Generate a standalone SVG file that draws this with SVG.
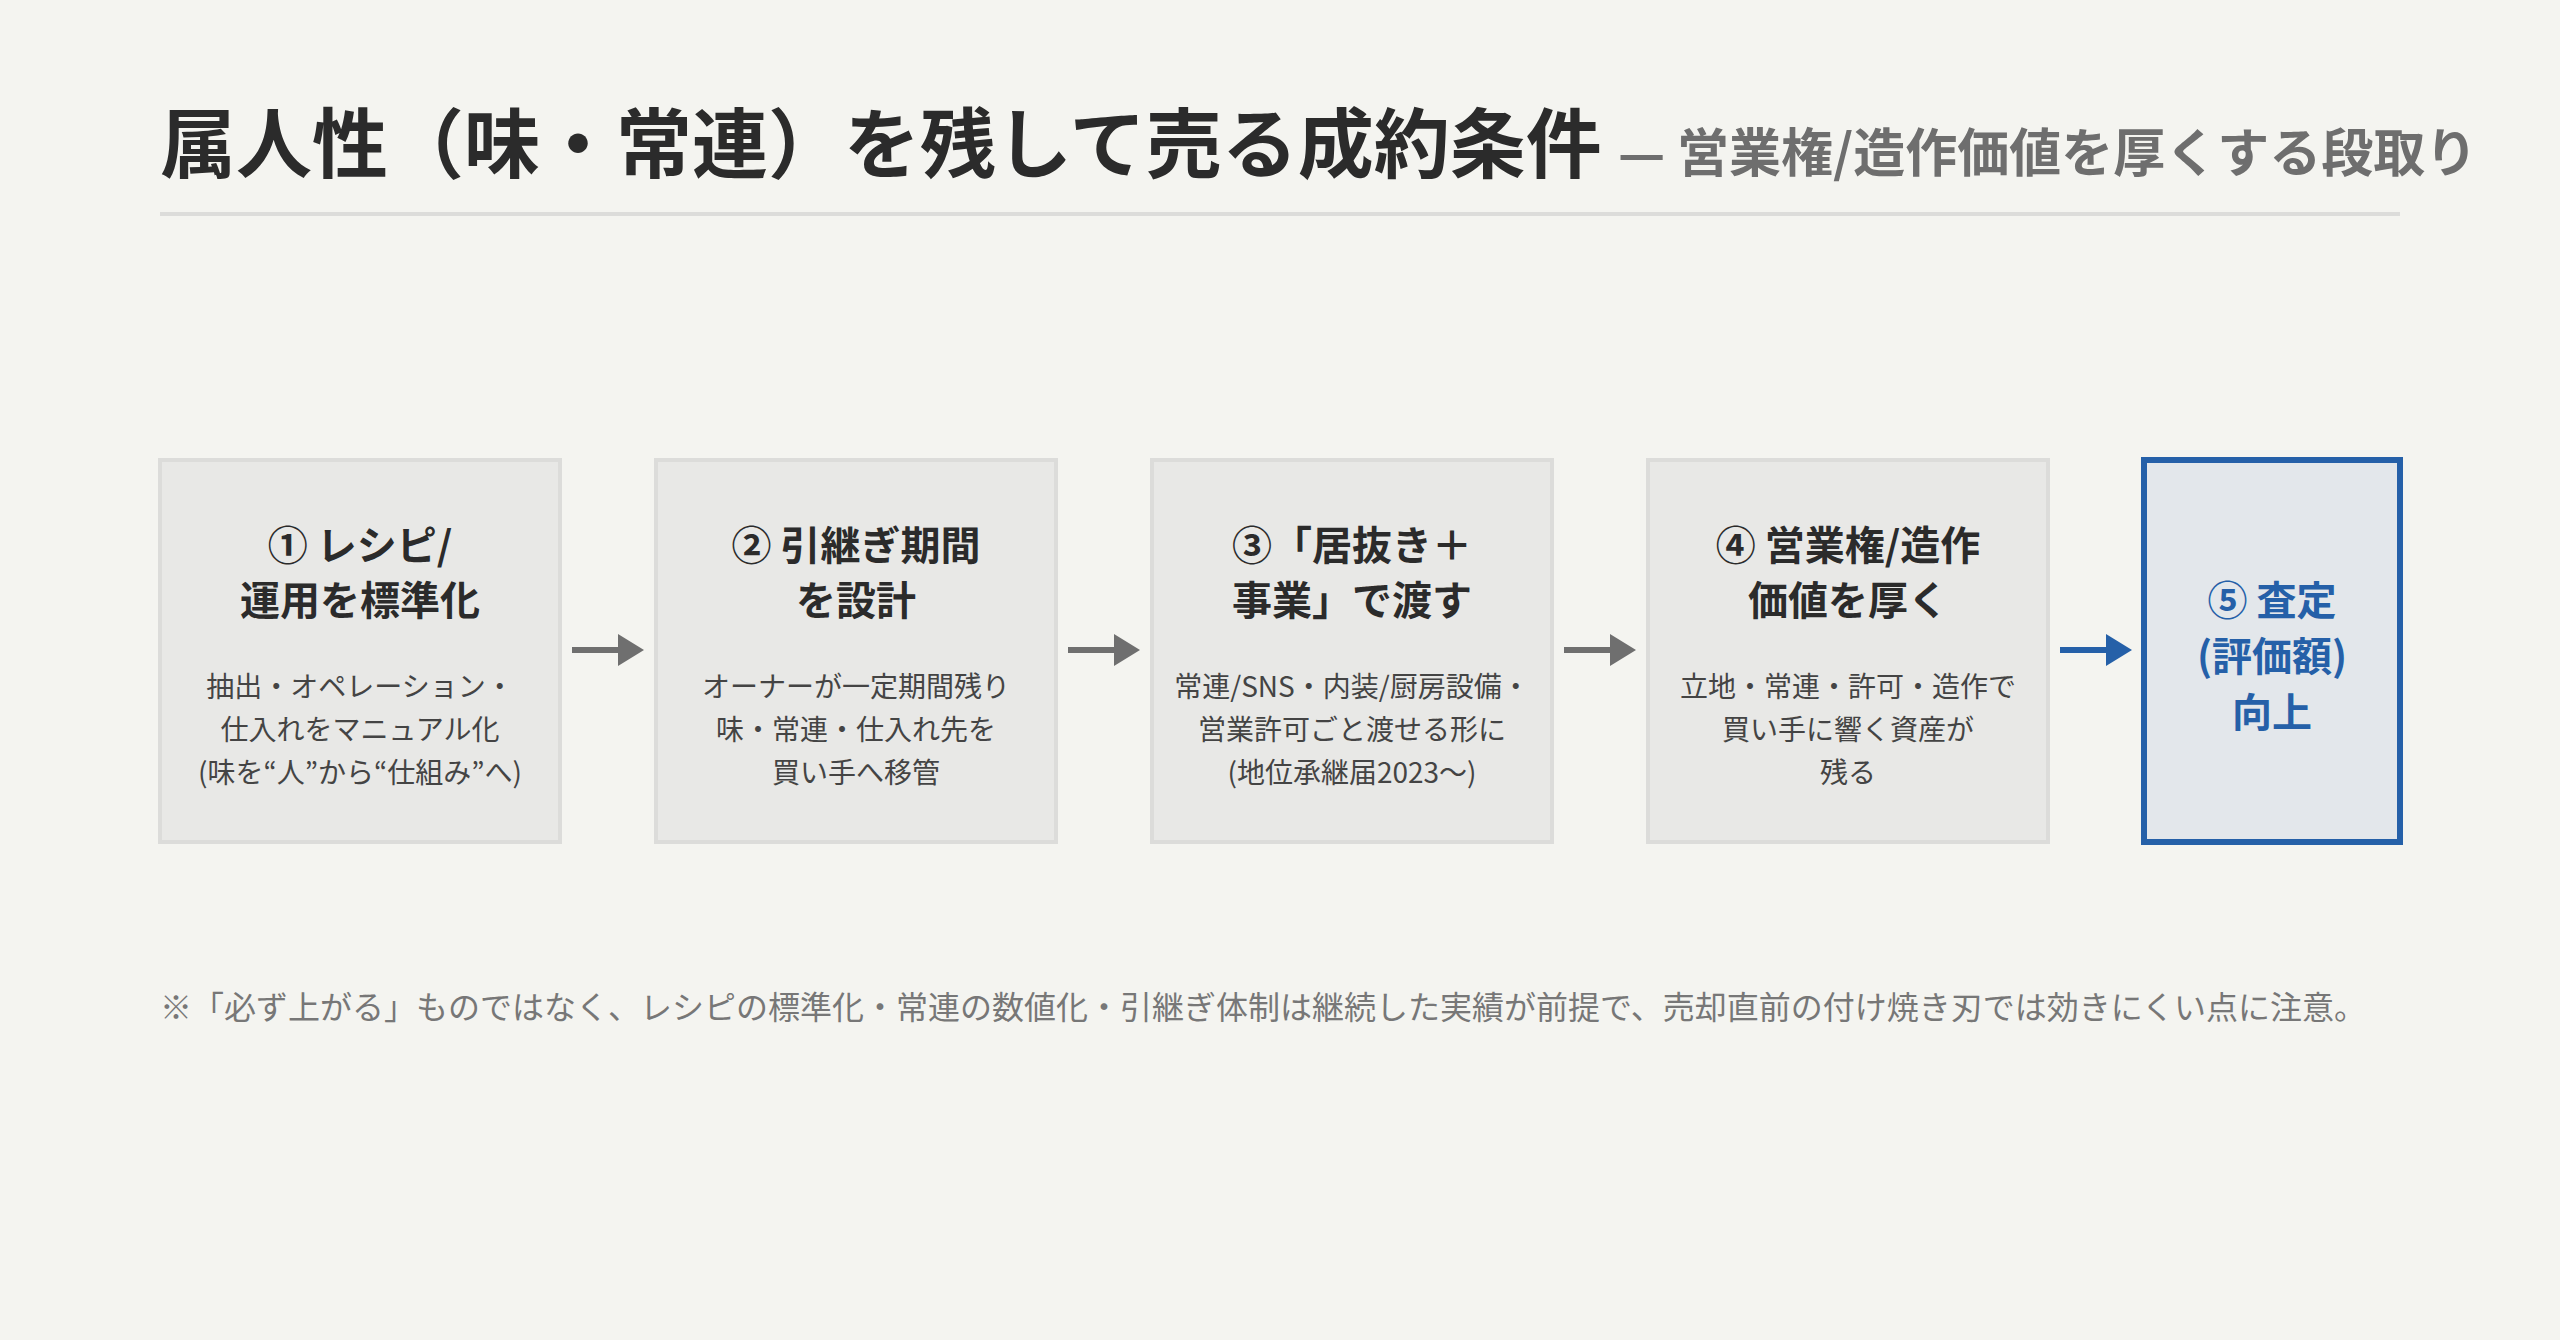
<svg xmlns="http://www.w3.org/2000/svg" width="2560" height="1340" viewBox="0 0 2560 1340">
<defs>
<style>
text { font-family: "Noto Sans CJK JP", "Noto Sans", sans-serif; }
.title { font-size: 76px; font-weight: 700; fill: #2b2b2b; }
.sub { font-size: 52px; font-weight: 700; fill: #6e6e6e; }
.box { fill: #e8e8e6; stroke: #dcdcda; stroke-width: 4; }
.box5 { fill: #e3e7eb; stroke: #2560a8; stroke-width: 6; }
.h { font-size: 40px; font-weight: 700; fill: #2b2b2b; text-anchor: middle; }
.h5 { fill: #2560a8; }
.b { font-size: 28px; fill: #444444; text-anchor: middle; }
.note { font-size: 32px; fill: #777777; }
.arr { stroke: #6f6f6f; stroke-width: 6; fill: none; }
.arrb { stroke: #2560a8; }
</style>
<marker id="ah" markerUnits="userSpaceOnUse" markerWidth="26" markerHeight="32" refX="12" refY="16" orient="auto"><path d="M0,0 L26,16 L0,32 z" fill="#6f6f6f"/></marker>
<marker id="ahb" markerUnits="userSpaceOnUse" markerWidth="26" markerHeight="32" refX="12" refY="16" orient="auto"><path d="M0,0 L26,16 L0,32 z" fill="#2560a8"/></marker>
</defs>
<rect x="0" y="0" width="2560" height="1340" fill="#f4f4f0"/>

<g id="header">
<text class="title" x="160" y="172">属人性（味・常連）を残して売る成約条件</text>
<text class="sub" x="1618" y="172">— 営業権/造作価値を厚くする段取り</text>
<rect x="160" y="212" width="2240" height="4" fill="#dcdcda"/>
</g>

<g id="node1">
<rect class="box" x="160" y="460" width="400" height="382"/>
<text class="h" x="360" y="560">① レシピ/</text>
<text class="h" x="360" y="615">運用を標準化</text>
<text class="b" x="360" y="697">抽出・オペレーション・</text>
<text class="b" x="360" y="740">仕入れをマニュアル化</text>
<text class="b" x="360" y="783">(味を“人”から“仕組み”へ)</text>
</g>

<g id="node2">
<rect class="box" x="656" y="460" width="400" height="382"/>
<text class="h" x="856" y="560">② 引継ぎ期間</text>
<text class="h" x="856" y="615">を設計</text>
<text class="b" x="856" y="697">オーナーが一定期間残り</text>
<text class="b" x="856" y="740">味・常連・仕入れ先を</text>
<text class="b" x="856" y="783">買い手へ移管</text>
</g>

<g id="node3">
<rect class="box" x="1152" y="460" width="400" height="382"/>
<text class="h" x="1352" y="560">③「居抜き＋</text>
<text class="h" x="1352" y="615">事業」で渡す</text>
<text class="b" x="1352" y="697">常連/SNS・内装/厨房設備・</text>
<text class="b" x="1352" y="740">営業許可ごと渡せる形に</text>
<text class="b" x="1352" y="783">(地位承継届2023〜)</text>
</g>

<g id="node4">
<rect class="box" x="1648" y="460" width="400" height="382"/>
<text class="h" x="1848" y="560">④ 営業権/造作</text>
<text class="h" x="1848" y="615">価値を厚く</text>
<text class="b" x="1848" y="697">立地・常連・許可・造作で</text>
<text class="b" x="1848" y="740">買い手に響く資産が</text>
<text class="b" x="1848" y="783">残る</text>
</g>

<g id="node5">
<rect class="box5" x="2144" y="460" width="256" height="382"/>
<text class="h h5" x="2272" y="615">⑤ 査定</text>
<text class="h h5" x="2272" y="671">(評価額)</text>
<text class="h h5" x="2272" y="727">向上</text>
</g>

<g id="connectors">
<line class="arr" x1="572" y1="650" x2="630" y2="650" marker-end="url(#ah)"/>
<line class="arr" x1="1068" y1="650" x2="1126" y2="650" marker-end="url(#ah)"/>
<line class="arr" x1="1564" y1="650" x2="1622" y2="650" marker-end="url(#ah)"/>
<line class="arr arrb" x1="2060" y1="650" x2="2118" y2="650" marker-end="url(#ahb)"/>
</g>

<g id="footnote">
<text class="note" x="160" y="1019">※「必ず上がる」ものではなく、レシピの標準化・常連の数値化・引継ぎ体制は継続した実績が前提で、売却直前の付け焼き刃では効きにくい点に注意。</text>
</g>
</svg>
